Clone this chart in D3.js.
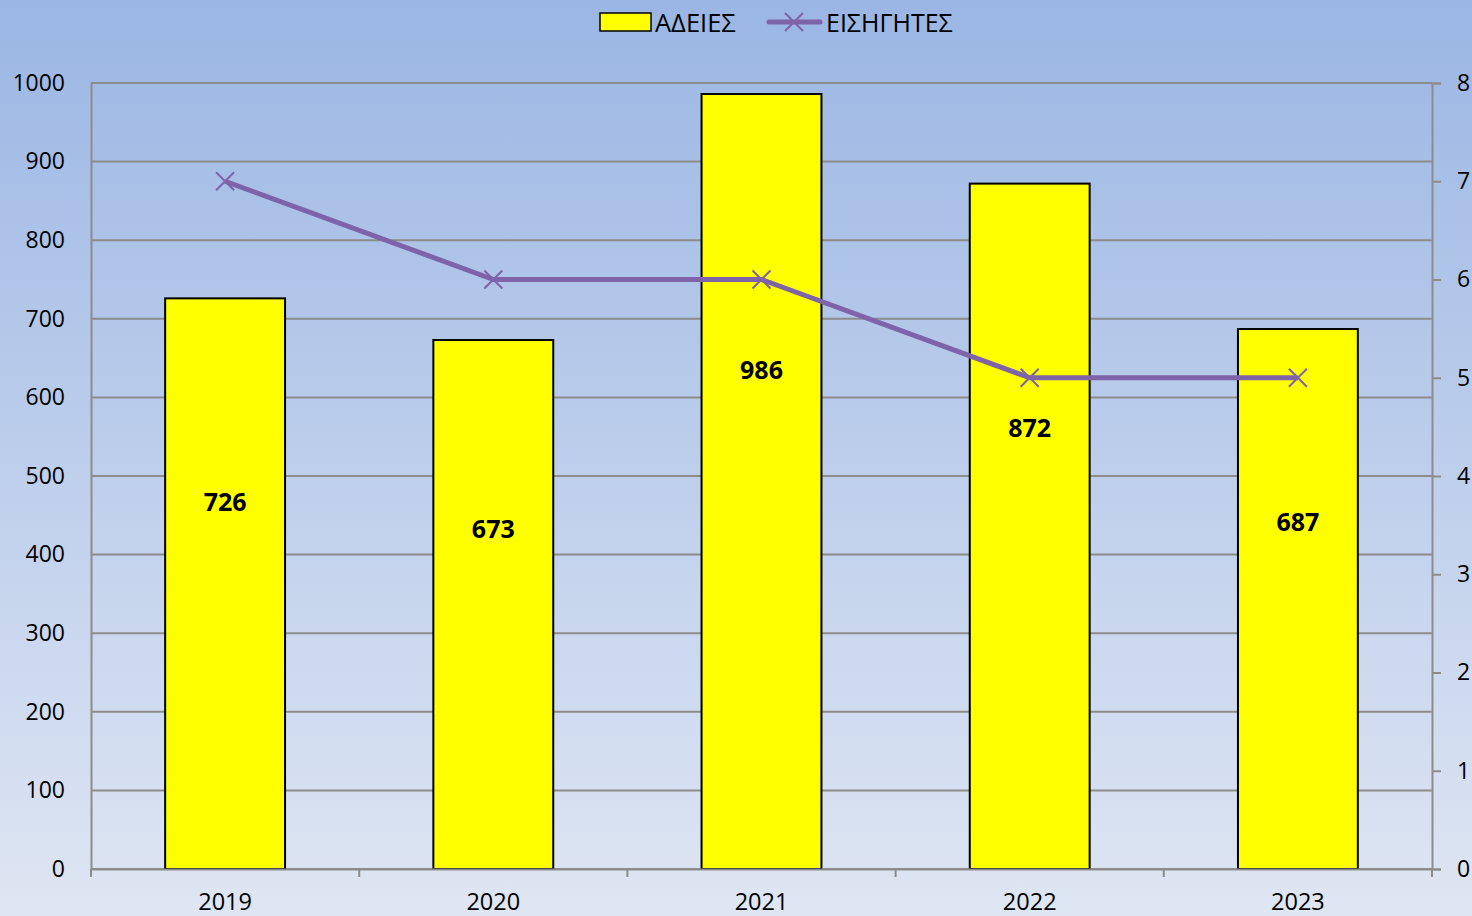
<!DOCTYPE html>
<html>
<head>
<meta charset="utf-8">
<script src="https://cdn.jsdelivr.net/npm/d3@7"></script>
<style>
html,body{margin:0;padding:0;}
svg{display:block;}
text{font-family:"Open Sans","DejaVu Sans",sans-serif;}
</style>
</head>
<body>
<svg id="chart" width="1472" height="916"></svg>
<script>
const years = ["2019","2020","2021","2022","2023"];
const adeies = [726, 673, 986, 872, 687];
const eisigites = [7, 6, 6, 5, 5];
const leftTicks = [0,100,200,300,400,500,600,700,800,900,1000];
const rightTicks = [0,1,2,3,4,5,6,7,8];
const seriesNames = ["ΑΔΕΙΕΣ","ΕΙΣΗΓΗΤΕΣ"];

const W = 1472, H = 916;
const m = {left:91, right:40, top:83, bottom:47};
const x0 = m.left, x1 = W - m.right, y0 = H - m.bottom, y1 = m.top;
const svg = d3.select("#chart");

const defs = svg.append("defs");
const grad = defs.append("linearGradient").attr("id","bg").attr("x1",0).attr("y1",0).attr("x2",0).attr("y2",1);
grad.append("stop").attr("offset","0%").attr("stop-color","#9bb6e4");
grad.append("stop").attr("offset","100%").attr("stop-color","#dfe6f3");
svg.append("rect").attr("width",W).attr("height",H).attr("fill","url(#bg)");

const x = d3.scaleBand().domain(years).range([x0,x1]).paddingInner(0).paddingOuter(0);
const yL = d3.scaleLinear().domain([0,1000]).range([y0,y1]);
const yR = d3.scaleLinear().domain([0,8]).range([y0,y1]);

// gridlines
svg.append("g").selectAll("line").data(leftTicks).join("line")
  .attr("x1",x0).attr("x2",x1).attr("y1",d=>yL(d)).attr("y2",d=>yL(d))
  .attr("stroke","#8c8c8c").attr("stroke-width",2);

// bars
const bw = x.bandwidth()*0.447;
svg.append("g").selectAll("rect").data(adeies).join("rect")
  .attr("x",(d,i)=>x(years[i])+x.bandwidth()/2-bw/2)
  .attr("y",d=>yL(d))
  .attr("width",bw)
  .attr("height",d=>y0-yL(d))
  .attr("fill","#ffff00").attr("stroke","#000").attr("stroke-width",2);

// left axis
const gL = svg.append("g").attr("transform",`translate(${x0},0)`)
  .call(d3.axisLeft(yL).tickValues(leftTicks).tickFormat(d3.format("d")).tickSize(0).tickPadding(26));
gL.select(".domain").attr("stroke","#8c8c8c").attr("stroke-width",2);
gL.selectAll("text").attr("font-size",23).attr("fill","#000");

// right axis
const gR = svg.append("g").attr("transform",`translate(${x1},0)`)
  .call(d3.axisRight(yR).tickValues(rightTicks).tickSize(9).tickPadding(16));
gR.select(".domain").attr("stroke","#8c8c8c").attr("stroke-width",2);
gR.selectAll(".tick line").attr("stroke","#8c8c8c").attr("stroke-width",2);
gR.selectAll("text").attr("font-size",23).attr("fill","#000");

// bottom axis
const gB = svg.append("g").attr("transform",`translate(0,${y0})`)
  .call(d3.axisBottom(x).tickSize(0).tickPadding(24));
gB.select(".domain").attr("stroke","#8c8c8c").attr("stroke-width",2);
gB.selectAll("text").attr("font-size",23.5).attr("fill","#000");
const bounds = years.map(y=>x(y)).concat([x1]);
gB.selectAll(".bt").data(bounds).join("line").attr("class","bt")
  .attr("x1",d=>d).attr("x2",d=>d).attr("y1",0).attr("y2",8)
  .attr("stroke","#8c8c8c").attr("stroke-width",2);

// value labels
svg.append("g").selectAll("text").data(adeies).join("text")
  .attr("x",(d,i)=>x(years[i])+x.bandwidth()/2)
  .attr("y",d=>yL(d*0.645))
  .attr("text-anchor","middle").attr("dominant-baseline","central")
  .attr("font-size",25).attr("font-weight","bold").attr("fill","#000")
  .text(d=>d);

// line series
const lineColor = "#7f63a8";
const cx = (d,i)=>x(years[i])+x.bandwidth()/2;
svg.append("path").datum(eisigites)
  .attr("d",d3.line().x(cx).y(d=>yR(d)))
  .attr("fill","none").attr("stroke",lineColor).attr("stroke-width",5).attr("stroke-linejoin","round");
const ms = 9;
const mk = svg.append("g").selectAll("g").data(eisigites).join("g")
  .attr("transform",(d,i)=>`translate(${cx(d,i)},${yR(d)})`);
mk.append("path").attr("d",`M${-ms},${-ms}L${ms},${ms}M${-ms},${ms}L${ms},${-ms}`)
  .attr("stroke",lineColor).attr("stroke-width",2);

// legend
const lg = svg.append("g");
lg.append("rect").attr("x",600).attr("y",13).attr("width",51).attr("height",18)
  .attr("fill","#ffff00").attr("stroke","#000").attr("stroke-width",1.5);
lg.append("text").attr("x",655).attr("y",22).attr("dominant-baseline","central")
  .attr("font-size",25.5).attr("fill","#000").text(seriesNames[0]);
lg.append("line").attr("x1",769).attr("x2",820).attr("y1",22).attr("y2",22)
  .attr("stroke",lineColor).attr("stroke-width",5).attr("stroke-linecap","round");
lg.append("path").attr("d",`M${794-ms},${22-ms}L${794+ms},${22+ms}M${794-ms},${22+ms}L${794+ms},${22-ms}`)
  .attr("stroke",lineColor).attr("stroke-width",2);
lg.append("text").attr("x",826).attr("y",22).attr("dominant-baseline","central")
  .attr("font-size",25).attr("fill","#000").text(seriesNames[1]);
</script>
</body>
</html>
